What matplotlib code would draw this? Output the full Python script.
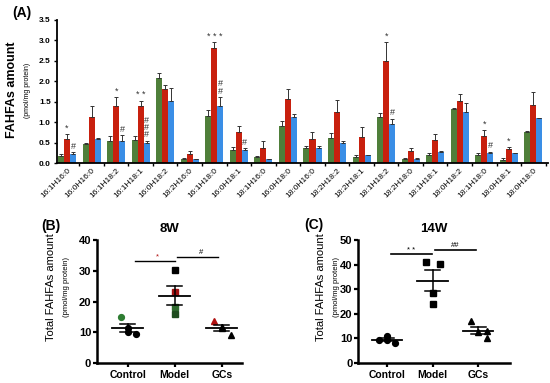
import numpy as np
import matplotlib
matplotlib.use("Agg")
import matplotlib.pyplot as plt

plt.rcParams["font.family"] = ["Liberation Sans", "DejaVu Sans"]

# ── panel A data ──────────────────────────────────────────────
species = ["16:1H16:0", "16:0H16:0", "16:1H18:2", "16:1H18:1", "16:0H18:2",
           "18:2H16:0", "16:1H18:0", "16:0H18:1", "18:1H16:0", "16:0H18:0",
           "18:0H16:0", "18:2H18:2", "18:2H18:1", "18:1H18:2", "18:2H18:0",
           "18:1H18:1", "18:0H18:2", "18:1H18:0", "18:0H18:1", "18:0H18:0"]
ctrl_mean = [0.18, 0.46, 0.53, 0.57, 2.08, 0.10, 1.16, 0.31, 0.16, 0.91,
             0.37, 0.61, 0.14, 1.12, 0.11, 0.20, 1.33, 0.21, 0.07, 0.75]
ctrl_err = [0.05, 0.04, 0.14, 0.10, 0.13, 0.03, 0.13, 0.09, 0.02, 0.12,
            0.04, 0.13, 0.05, 0.10, 0.01, 0.04, 0.01, 0.05, 0.05, 0.03]
model_mean = [0.59, 1.12, 1.40, 1.40, 1.82, 0.23, 2.81, 0.77, 0.38, 1.57,
              0.59, 1.24, 0.63, 2.50, 0.30, 0.56, 1.53, 0.67, 0.34, 1.42]
model_err = [0.12, 0.28, 0.22, 0.13, 0.08, 0.07, 0.15, 0.14, 0.15, 0.24,
             0.17, 0.30, 0.26, 0.45, 0.08, 0.16, 0.16, 0.15, 0.06, 0.32]
gcs_mean = [0.23, 0.59, 0.53, 0.49, 1.51, 0.10, 1.40, 0.31, 0.10, 1.14,
            0.37, 0.49, 0.20, 0.96, 0.11, 0.28, 1.24, 0.24, 0.25, 1.10]
gcs_err = [0.04, 0.02, 0.16, 0.06, 0.32, 0.01, 0.22, 0.06, 0.01, 0.05,
           0.04, 0.05, 0.01, 0.13, 0.02, 0.01, 0.24, 0.04, 0.01, 0.01]
# (group index, bar: 0 ctrl / 1 model / 2 gcs, text)
marks = [(0, 1, "*"), (0, 2, "#"), (2, 1, "*"), (2, 2, "#"),
         (3, 1, "* *"), (3, 2, "#\n#\n#"), (6, 1, "* * *"), (6, 2, "#\n#"),
         (7, 2, "#"), (13, 1, "*"), (13, 2, "#"), (17, 1, "*"),
         (17, 2, "#"), (18, 1, "*")]

# ── panel B / C data (total FAHFAs) ───────────────────────────
groups = ["Control", "Model", "GCs"]
w8_pts = [[15.0, 11.5, 10.2, 9.3], [30.3, 23.2, 18.3, 15.9], [13.7, 11.8, 11.5, 9.1]]
w8_cols = [["#2e7d32", "k", "k", "k"], ["k", "#a01010", "#2e6b2e", "#1f4d1f"],
           ["#b01010", "k", "k", "k"]]
w14_pts = [[9.5, 11.2, 9.3, 8.3], [41.0, 40.5, 28.6, 23.9], [17.1, 13.0, 12.6, 10.3]]
jitter = [[-0.15, 0.0, 0.0, 0.17], [0.0, 0.0, 0.0, 0.0], [-0.17, 0.0, 0.0, 0.2]]
jitter14 = [[-0.17, 0.0, 0.0, 0.17], [-0.15, 0.17, 0.0, 0.0], [-0.17, 0.18, 0.0, 0.18]]
markers = ["o", "s", "^"]

C_GREEN, C_RED, C_BLUE = "#4f7f3a", "#c8200e", "#3a8ee6"

fig = plt.figure(figsize=(5.5, 3.83), dpi=100)

# ═════ (A) bar chart ═════
axA = fig.add_axes([0.1036, 0.574, 0.893, 0.374])
x = np.arange(len(species))
bw = 0.245
series = [(ctrl_mean, ctrl_err, C_GREEN), (model_mean, model_err, C_RED),
          (gcs_mean, gcs_err, C_BLUE)]
for k, (m, e, c) in enumerate(series):
    pos = x + (k - 1) * bw
    axA.bar(pos, m, width=bw, color=c, zorder=2)
    axA.errorbar(pos, m, yerr=[np.zeros(len(m)), e], fmt="none", ecolor="#333333",
                 elinewidth=0.7, capsize=1.3, capthick=0.7, zorder=3)
for g, k, t in marks:
    m, e, _ = series[k]
    axA.text(g + (k - 1) * bw, m[g] + e[g] + 0.03, t, ha="center", va="bottom",
             fontsize=6.5, color="#333333", linespacing=0.75)
axA.set_xlim(-0.41, 19.6)
axA.set_ylim(0, 3.5)
axA.set_yticks(np.arange(0, 3.51, 0.5))
axA.set_yticklabels([f"{v:.1f}" for v in np.arange(0, 3.51, 0.5)],
                    fontsize=6, fontweight="bold")
axA.set_xticks(x)
axA.set_xticklabels(species, rotation=45, ha="right", rotation_mode="anchor",
                    fontsize=6)
axA.set_xticks(x + 0.5, minor=True)
axA.tick_params(axis="x", which="major", length=0, pad=3)
axA.tick_params(axis="x", which="minor", length=2.5, width=1)
axA.tick_params(axis="y", length=2.5, width=1, pad=2)
for s in ["top", "right"]:
    axA.spines[s].set_visible(False)
for s in ["left", "bottom"]:
    axA.spines[s].set_linewidth(1.3)
fig.text(0.022, 0.965, "(A)", fontsize=10, fontweight="bold", va="center")
fig.text(0.022, 0.765, "FAHFAs amount", rotation=90, fontsize=9,
         fontweight="bold", ha="center", va="center")
fig.text(0.05, 0.765, "(pmol/mg protein)", rotation=90, fontsize=5,
         ha="center", va="center")


def scatter_panel(ax, pts, jit, cols, ymax, ystep):
    for i, vals in enumerate(pts):
        xs = [i + j for j in jit[i]]
        for xx, yy, cc in zip(xs, vals, cols[i]):
            ax.plot(xx, yy, marker=markers[i], color=cc, ms=4.2, ls="none", zorder=3)
        mu = np.mean(vals)
        sem = np.std(vals, ddof=1) / np.sqrt(len(vals))
        ax.plot([i - 0.33, i + 0.33], [mu, mu], color="k", lw=1.3, zorder=4)
        ax.plot([i, i], [mu - sem, mu + sem], color="k", lw=1.1, zorder=4)
        for yy in (mu - sem, mu + sem):
            ax.plot([i - 0.16, i + 0.16], [yy, yy], color="k", lw=1.1, zorder=4)
    ax.set_ylim(0, ymax)
    ax.set_yticks(np.arange(0, ymax + 1, ystep))
    ax.set_xticks(range(3))
    ax.set_xticklabels(groups, fontsize=7.5, fontweight="bold")
    ax.tick_params(axis="y", labelsize=8, width=1.6, length=3, pad=1)
    ax.tick_params(axis="x", width=1.6, length=3, pad=2)
    for lab in ax.get_yticklabels():
        lab.set_fontweight("bold")
    for s in ["top", "right"]:
        ax.spines[s].set_visible(False)
    for s in ["left", "bottom"]:
        ax.spines[s].set_linewidth(1.8)


# ═════ (B) 8W ═════
axB = fig.add_axes([0.176, 0.052, 0.264, 0.321])
scatter_panel(axB, w8_pts, jitter, w8_cols, 40, 10)
axB.set_xlim(-0.66, 2.43)
axB.plot([0.15, 1.0], [33.2, 33.2], color="k", lw=1.0)
axB.plot([1.05, 1.92], [34.6, 34.6], color="k", lw=1.0)
axB.text(0.62, 33.4, "*", ha="center", va="bottom", fontsize=5.5, color="#b01010")
axB.text(1.55, 34.8, "#", ha="center", va="bottom", fontsize=5.5)
axB.set_title("8W", fontsize=9.5, fontweight="bold", pad=6)
fig.text(0.092, 0.25, "Total FAHFAs amount", rotation=90, fontsize=8,
         ha="center", va="center")
fig.text(0.12, 0.25, "(pmol/mg protein)", rotation=90, fontsize=5.5,
         ha="center", va="center")
fig.text(0.075, 0.41, "(B)", fontsize=10, fontweight="bold", va="center")

# ═════ (C) 14W ═════
axC = fig.add_axes([0.651, 0.052, 0.276, 0.321])
scatter_panel(axC, w14_pts, jitter14, [["k"] * 4] * 3, 50, 10)
axC.set_xlim(-0.63, 2.69)
axC.plot([0.08, 0.98], [44.3, 44.3], color="k", lw=1.2)
axC.plot([1.05, 1.95], [46.0, 46.0], color="k", lw=1.2)
axC.text(0.53, 44.5, "* *", ha="center", va="bottom", fontsize=5.5)
axC.text(1.5, 46.2, "##", ha="center", va="bottom", fontsize=5.5)
axC.set_title("14W", fontsize=9.5, fontweight="bold", pad=6)
fig.text(0.584, 0.25, "Total FAHFAs amount", rotation=90, fontsize=8,
         ha="center", va="center")
fig.text(0.612, 0.25, "(pmol/mg protein)", rotation=90, fontsize=5.5,
         ha="center", va="center")
fig.text(0.553, 0.412, "(C)", fontsize=10, fontweight="bold", va="center")

fig.savefig("out.png", dpi=100)
